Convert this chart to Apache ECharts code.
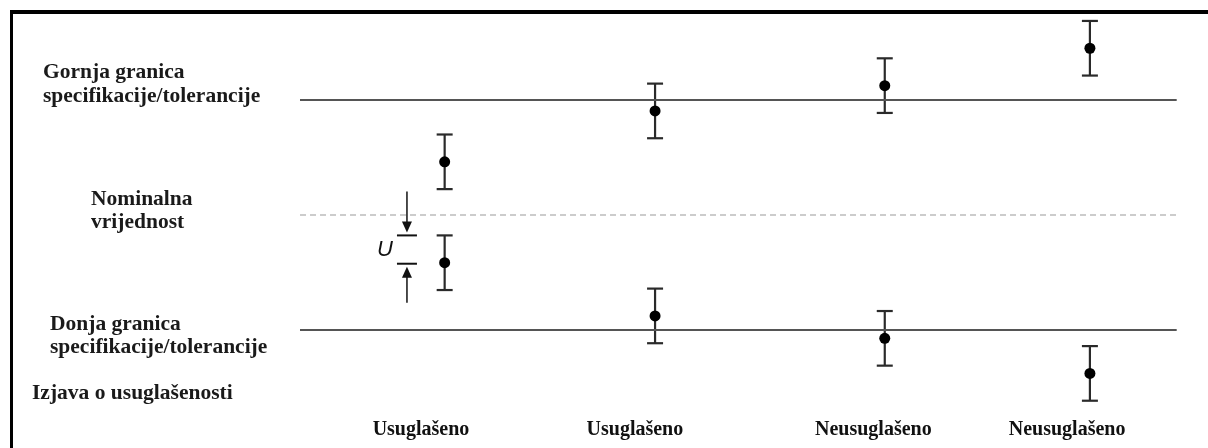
<!DOCTYPE html>
<html>
<head>
<meta charset="utf-8">
<script src="https://cdn.jsdelivr.net/npm/echarts@6/dist/echarts.min.js"></script>
<style>
html,body{margin:0;padding:0;background:#fff;}
#c{width:1208px;height:448px;}
</style>
</head>
<body>
<div id="c"></div>
<script>
// ---- data ----
const categories = ['Usuglašeno', 'Usuglašeno', 'Neusuglašeno', 'Neusuglašeno'];
const xPos = [1.65, 4.05, 6.67, 9.01];          // position of each measurement pair
const labelX = [1.38, 3.82, 6.54, 8.75];        // position of each compliance label
const upperValues = [1.85, 3.62, 4.50, 5.80];   // measured results near the upper limit
const lowerValues = [-1.66, -3.51, -4.29, -5.51]; // measured results near the lower limit
const U = 0.95;                                 // expanded uncertainty
const USL = 4, LSL = -4, NOMINAL = 0;
const lineExtent = [0, 10];
const labelY = -7.48;
const uArrowX = 1.22;
const leftLabels = [
  'Gornja granica\nspecifikacije/tolerancije',
  'Nominalna\nvrijednost',
  'Donja granica\nspecifikacije/tolerancije',
  'Izjava o usuglašenosti'
];

const chart = echarts.init(document.getElementById('c'));
const serif = '"Liberation Serif", "Times New Roman", serif';

const points = [];
for (let i = 0; i < xPos.length; i++) {
  points.push([xPos[i], upperValues[i]]);
  points.push([xPos[i], lowerValues[i]]);
}

function hLine(v) { return [[lineExtent[0], v], [lineExtent[1], v]]; }

const option = {
  animation: false,
  grid: { left: 300, right: 31.3, top: 13.75, bottom: 3, containLabel: false },
  xAxis: { type: 'value', min: 0, max: 10, show: false },
  yAxis: { type: 'value', min: -8, max: 7, show: false },
  series: [
    { type: 'line', data: hLine(USL), symbol: 'none', lineStyle: { color: '#555', width: 2 }, silent: true },
    { type: 'line', data: hLine(LSL), symbol: 'none', lineStyle: { color: '#555', width: 2 }, silent: true },
    { type: 'line', data: hLine(NOMINAL), symbol: 'none', lineStyle: { color: '#999', width: 1, type: [6, 4] }, silent: true },
    {
      type: 'custom',
      data: points,
      clip: false,
      renderItem: function (params, api) {
        const x = api.value(0), v = api.value(1);
        const c = api.coord([x, v]);
        const t = api.coord([x, v + U]);
        const b = api.coord([x, v - U]);
        const st = { stroke: '#2a2a2a', lineWidth: 2.2 };
        return {
          type: 'group',
          children: [
            { type: 'line', shape: { x1: c[0], y1: t[1], x2: c[0], y2: b[1] }, style: st },
            { type: 'line', shape: { x1: c[0] - 8, y1: t[1], x2: c[0] + 8, y2: t[1] }, style: st },
            { type: 'line', shape: { x1: c[0] - 8, y1: b[1], x2: c[0] + 8, y2: b[1] }, style: st },
            { type: 'circle', shape: { cx: c[0], cy: c[1], r: 5.5 }, style: { fill: '#000' } }
          ]
        };
      }
    },
    {
      type: 'custom',
      data: [[uArrowX, lowerValues[0]]],
      clip: false,
      renderItem: function (params, api) {
        const x = api.value(0), v = api.value(1);
        const top = api.coord([x, v + U]);
        const bot = api.coord([x, v]);
        const ax = top[0];
        const st = { stroke: '#111', lineWidth: 1.5 };
        const ty = top[1], by = bot[1] + 1;
        return {
          type: 'group',
          children: [
            { type: 'line', shape: { x1: ax, y1: ty - 44, x2: ax, y2: ty - 12 }, style: st },
            { type: 'polygon', shape: { points: [[ax - 5, ty - 14], [ax + 5, ty - 14], [ax, ty - 3]] }, style: { fill: '#111' } },
            { type: 'line', shape: { x1: ax - 10, y1: ty, x2: ax + 10, y2: ty }, style: { stroke: '#111', lineWidth: 2 } },
            { type: 'line', shape: { x1: ax - 10, y1: by, x2: ax + 10, y2: by }, style: { stroke: '#111', lineWidth: 2 } },
            { type: 'polygon', shape: { points: [[ax - 5, by + 14], [ax + 5, by + 14], [ax, by + 3]] }, style: { fill: '#111' } },
            { type: 'line', shape: { x1: ax, y1: by + 12, x2: ax, y2: by + 39 }, style: st },
            { type: 'text', x: ax - 22, y: (ty + by) / 2, style: {
                text: 'U', fill: '#111', font: 'italic 22px "Liberation Sans", Arial, sans-serif',
                align: 'center', verticalAlign: 'middle' } }
          ]
        };
      }
    },
    {
      type: 'scatter',
      data: labelX.map((x, i) => ({ value: [x, labelY], name: categories[i] })),
      symbolSize: 0,
      silent: true,
      itemStyle: { opacity: 1 },
      label: {
        show: true, position: 'inside', formatter: '{b}', opacity: 1,
        color: '#111', fontFamily: serif, fontWeight: 'bold', fontSize: 20
      },
      emphasis: { disabled: true }
    }
  ],
  graphic: [
    { type: 'line', shape: { x1: 10, y1: 12, x2: 1208, y2: 12 }, style: { stroke: '#000', lineWidth: 4 } },
    { type: 'line', shape: { x1: 11.5, y1: 10, x2: 11.5, y2: 448 }, style: { stroke: '#000', lineWidth: 3 } },
    { type: 'text', left: 43, top: 60, style: { text: leftLabels[0], font: 'bold 21.5px ' + serif, fill: '#1a1a1a', lineHeight: 24 } },
    { type: 'text', left: 91, top: 188, style: { text: leftLabels[1], font: 'bold 21.5px ' + serif, fill: '#1a1a1a', lineHeight: 23 } },
    { type: 'text', left: 50, top: 313, style: { text: leftLabels[2], font: 'bold 21.5px ' + serif, fill: '#1a1a1a', lineHeight: 23 } },
    { type: 'text', left: 32, top: 381, style: { text: leftLabels[3], font: 'bold 21.5px ' + serif, fill: '#1a1a1a', lineHeight: 24 } }
  ]
};
chart.setOption(option);
</script>
</body>
</html>
